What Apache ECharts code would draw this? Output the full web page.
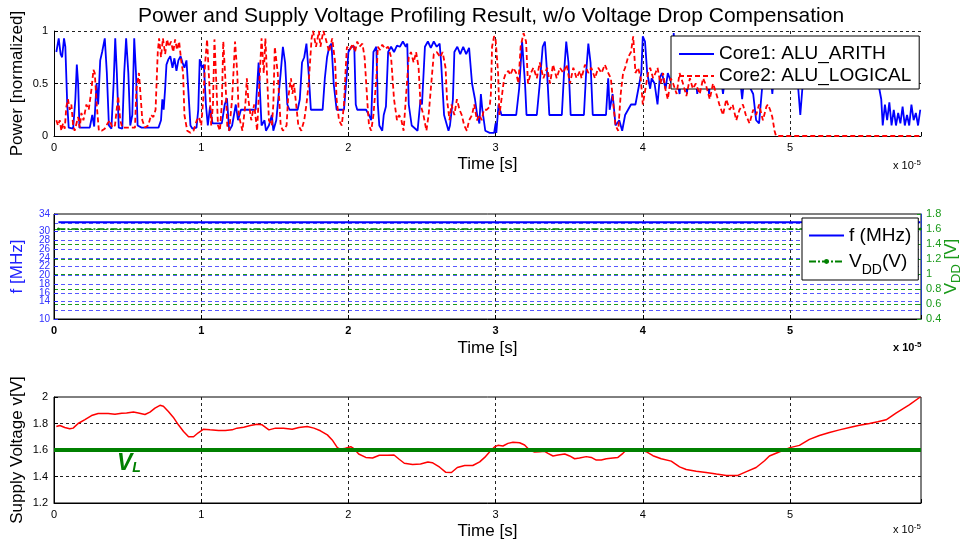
<!DOCTYPE html>
<html>
<head>
<meta charset="utf-8">
<script src="https://cdn.jsdelivr.net/npm/echarts@6/dist/echarts.min.js"></script>
<style>
  html, body { margin: 0; padding: 0; background: #fff; }
  #chart { width: 964px; height: 544px; }
</style>
</head>
<body>
<div id="chart"></div>
<script>
// time axis is in units of 1e-5 s
var tMax = 5.89;

// Core1: ALU_ARITH, [t, power]
var core1 = [
  [0.016,0.8],[0.032,0.93],[0.045,0.78],[0.055,0.75],[0.068,0.93],[0.077,0.85],[0.09,0.3],[0.1,0.08],
  [0.13,0.07],[0.145,0.35],[0.155,0.68],[0.164,0.5],[0.173,0.08],[0.243,0.08],[0.26,0.2],[0.273,0.09],
  [0.289,0.5],[0.3,0.3],[0.314,0.72],[0.327,0.8],[0.345,0.93],[0.359,0.6],[0.373,0.1],[0.39,0.07],
  [0.405,0.5],[0.416,0.93],[0.427,0.6],[0.44,0.08],[0.464,0.07],[0.477,0.6],[0.49,0.93],[0.505,0.6],
  [0.518,0.1],[0.532,0.2],[0.545,0.93],[0.557,0.6],[0.568,0.1],[0.595,0.08],[0.71,0.08],[0.727,0.15],
  [0.736,0.35],[0.745,0.25],[0.755,0.45],[0.764,0.68],[0.777,0.73],[0.79,0.76],[0.805,0.65],[0.818,0.74],
  [0.832,0.62],[0.845,0.72],[0.86,0.76],[0.873,0.7],[0.886,0.65],[0.9,0.72],[0.914,0.4],[0.927,0.1],
  [0.94,0.07],[0.968,0.08],[0.98,0.25],[0.99,0.73],[1.005,0.65],[1.018,0.68],[1.032,0.3],[1.045,0.1],
  [1.06,0.28],[1.077,0.12],[1.14,0.12],[1.16,0.3],[1.175,0.36],[1.19,0.05],[1.21,0.1],[1.235,0.3],
  [1.25,0.15],[1.27,0.25],[1.37,0.25],[1.39,0.7],[1.4,0.4],[1.41,0.1],[1.43,0.15],[1.44,0.05],
  [1.46,0.1],[1.48,0.2],[1.49,0.05],[1.51,0.15],[1.54,0.6],[1.555,0.85],[1.57,0.7],[1.585,0.3],
  [1.6,0.25],[1.655,0.25],[1.67,0.35],[1.685,0.7],[1.7,0.75],[1.715,0.88],[1.73,0.6],[1.745,0.25],
  [1.825,0.25],[1.84,0.55],[1.855,0.75],[1.87,0.85],[1.885,0.88],[1.9,0.5],[1.92,0.25],[1.97,0.25],
  [1.99,0.6],[2.0,0.8],[2.02,0.85],[2.04,0.85],[2.05,0.3],[2.06,0.25],[2.12,0.25],[2.14,0.2],
  [2.155,0.15],[2.17,0.8],[2.19,0.85],[2.2,0.3],[2.21,0.1],[2.23,0.05],[2.24,0.2],[2.255,0.28],
  [2.27,0.8],[2.29,0.85],[2.31,0.8],[2.33,0.86],[2.35,0.85],[2.37,0.9],[2.39,0.85],[2.4,0.88],
  [2.41,0.3],[2.43,0.1],[2.47,0.05],[2.49,0.35],[2.5,0.3],[2.52,0.85],[2.54,0.9],[2.56,0.84],
  [2.58,0.9],[2.6,0.85],[2.62,0.88],[2.63,0.7],[2.65,0.2],[2.66,0.15],[2.68,0.05],[2.69,0.1],
  [2.71,0.35],[2.72,0.8],[2.74,0.85],[2.76,0.78],[2.78,0.85],[2.8,0.78],[2.82,0.84],[2.84,0.5],
  [2.86,0.35],[2.875,0.2],[2.89,0.12],[2.9,0.4],[2.91,0.25],[2.93,0.05],[2.96,0.03],[2.99,0.03],
  [3.0,0.12],[3.005,0.03],[3.02,0.3],[3.04,0.2],[3.14,0.2],[3.16,0.45],[3.18,0.9],[3.2,0.5],
  [3.21,0.2],[3.28,0.2],[3.3,0.5],[3.32,0.85],[3.335,0.9],[3.35,0.6],[3.365,0.2],[3.45,0.2],
  [3.465,0.6],[3.48,0.9],[3.495,0.7],[3.51,0.2],[3.6,0.2],[3.615,0.6],[3.63,0.88],[3.645,0.7],
  [3.66,0.2],[3.75,0.2],[3.765,0.55],[3.775,0.25],[3.795,0.4],[3.815,0.1],[3.84,0.15],[3.86,0.05],
  [3.88,0.2],[3.9,0.25],[3.92,0.3],[3.95,0.3],[3.99,0.6],[4.0,0.95],[4.015,0.9],[4.03,0.6],
  [4.05,0.45],[4.06,0.55],[4.08,0.5],[4.1,0.3],[4.115,0.55],[4.13,0.6],[4.155,0.45],[4.17,0.6],
  [4.195,0.5],[4.21,0.98],[4.225,0.6],[4.25,0.4],[4.26,0.58],[4.29,0.55],[4.3,0.4],[4.31,0.58],
  [4.36,0.55],[4.37,0.4],[4.38,0.57],[4.44,0.56],[4.45,0.4],[4.46,0.56],[4.53,0.56],[4.545,0.4],
  [4.56,0.57],[4.66,0.56],[4.675,0.35],[4.69,0.57],[4.75,0.4],[4.77,0.15],[4.79,0.12],[4.81,0.45],
  [4.83,0.57],[4.87,0.55],[4.88,0.4],[4.89,0.56],[5.05,0.56],[5.07,0.2],[5.09,0.56],[5.16,0.55],
  [5.17,0.45],[5.18,0.56],[5.23,0.55],[5.24,0.45],[5.25,0.56],[5.3,0.55],[5.31,0.45],[5.32,0.56],
  [5.38,0.56],[5.39,0.45],[5.4,0.56],[5.46,0.55],[5.47,0.45],[5.48,0.56],[5.55,0.55],[5.56,0.45],
  [5.57,0.55],[5.6,0.5],[5.62,0.35],[5.63,0.1],[5.645,0.3],[5.66,0.15],[5.675,0.32],[5.69,0.1],
  [5.705,0.25],[5.72,0.1],[5.735,0.22],[5.75,0.12],[5.765,0.28],[5.78,0.1],[5.795,0.2],[5.81,0.1],
  [5.825,0.3],[5.84,0.15],[5.855,0.22],[5.87,0.1],[5.885,0.25]
];

// Core2: ALU_LOGICAL, [t, power]
var core2 = [
  [0.016,0.15],[0.027,0.1],[0.039,0.15],[0.05,0.05],[0.061,0.12],[0.073,0.07],[0.084,0.28],[0.095,0.35],
  [0.107,0.25],[0.118,0.3],[0.13,0.1],[0.14,0.05],[0.164,0.18],[0.175,0.08],[0.186,0.22],[0.2,0.15],
  [0.22,0.3],[0.236,0.25],[0.255,0.45],[0.268,0.63],[0.277,0.6],[0.29,0.3],[0.305,0.05],[0.323,0.05],
  [0.345,0.07],[0.364,0.12],[0.38,0.15],[0.395,0.08],[0.414,0.1],[0.436,0.38],[0.45,0.15],[0.464,0.08],
  [0.55,0.08],[0.56,0.45],[0.577,0.6],[0.59,0.35],[0.6,0.15],[0.618,0.08],[0.64,0.1],[0.66,0.2],
  [0.675,0.18],[0.69,0.25],[0.705,0.8],[0.714,0.93],[0.727,0.75],[0.74,0.93],[0.755,0.78],[0.768,0.92],
  [0.78,0.85],[0.795,0.9],[0.81,0.8],[0.823,0.92],[0.836,0.82],[0.85,0.9],[0.864,0.72],[0.877,0.6],
  [0.886,0.2],[0.905,0.05],[0.927,0.03],[0.948,0.05],[0.97,0.15],[0.986,0.18],[1.0,0.1],[1.014,0.35],
  [1.027,0.7],[1.04,0.92],[1.055,0.5],[1.068,0.1],[1.08,0.3],[1.09,0.92],[1.1,0.6],[1.114,0.1],
  [1.127,0.05],[1.14,0.3],[1.15,0.9],[1.164,0.55],[1.177,0.1],[1.19,0.05],[1.21,0.35],[1.23,0.9],
  [1.245,0.6],[1.255,0.2],[1.28,0.05],[1.3,0.3],[1.31,0.55],[1.32,0.35],[1.34,0.15],[1.36,0.3],
  [1.38,0.05],[1.395,0.5],[1.41,0.93],[1.425,0.6],[1.436,0.93],[1.45,0.5],[1.46,0.15],[1.48,0.1],
  [1.49,0.3],[1.5,0.85],[1.52,0.6],[1.54,0.1],[1.555,0.05],[1.58,0.1],[1.59,0.35],[1.61,0.55],
  [1.62,0.4],[1.63,0.5],[1.645,0.3],[1.66,0.1],[1.68,0.05],[1.7,0.15],[1.715,0.3],[1.73,0.5],
  [1.75,0.93],[1.76,1.0],[1.78,0.85],[1.8,1.0],[1.81,0.85],[1.83,1.0],[1.845,0.93],[1.87,0.8],
  [1.89,0.93],[1.91,0.7],[1.92,0.35],[1.936,0.15],[1.955,0.1],[1.97,0.3],[1.98,0.6],[1.99,0.85],
  [2.01,0.82],[2.03,0.88],[2.045,0.8],[2.06,0.9],[2.075,0.85],[2.095,0.88],[2.11,0.75],[2.13,0.3],
  [2.14,0.1],[2.155,0.05],[2.17,0.2],[2.19,0.55],[2.2,0.85],[2.215,0.82],[2.23,0.87],[2.25,0.83],
  [2.27,0.85],[2.29,0.75],[2.31,0.35],[2.33,0.15],[2.345,0.2],[2.36,0.15],[2.375,0.05],[2.39,0.35],
  [2.41,0.75],[2.425,0.8],[2.443,0.7],[2.46,0.8],[2.477,0.65],[2.49,0.3],[2.51,0.2],[2.53,0.05],
  [2.545,0.2],[2.56,0.45],[2.58,0.78],[2.6,0.8],[2.625,0.75],[2.64,0.8],[2.66,0.65],[2.67,0.35],
  [2.687,0.15],[2.7,0.3],[2.72,0.2],[2.737,0.35],[2.755,0.25],[2.77,0.2],[2.787,0.1],[2.805,0.05],
  [2.82,0.15],[2.84,0.2],[2.855,0.3],[2.873,0.15],[2.89,0.2],[2.906,0.15],[2.92,0.25],[2.94,0.25],
  [2.96,0.28],[2.968,0.4],[2.976,0.85],[2.99,0.95],[3.0,0.92],[3.017,0.6],[3.026,0.2],[3.04,0.35],
  [3.058,0.55],[3.07,0.6],[3.087,0.62],[3.1,0.58],[3.12,0.65],[3.14,0.6],[3.155,0.5],[3.17,0.85],
  [3.19,0.98],[3.207,0.9],[3.22,0.5],[3.24,0.6],[3.257,0.65],[3.28,0.55],[3.3,0.7],[3.325,0.55],
  [3.35,0.65],[3.37,0.5],[3.39,0.68],[3.415,0.55],[3.437,0.65],[3.46,0.6],[3.483,0.68],[3.505,0.5],
  [3.528,0.65],[3.55,0.55],[3.573,0.62],[3.584,0.55],[3.607,0.68],[3.63,0.6],[3.65,0.65],[3.675,0.55],
  [3.697,0.65],[3.72,0.6],[3.742,0.68],[3.765,0.6],[3.783,0.55],[3.8,0.3],[3.815,0.1],[3.833,0.05],
  [3.85,0.4],[3.866,0.6],[3.88,0.65],[3.9,0.75],[3.92,0.8],[3.935,0.95],[3.95,0.6],[3.968,0.65],
  [3.986,0.55],[4.0,0.3],[4.018,0.45],[4.036,0.6],[4.05,0.65],[4.07,0.55],[4.086,0.6],[4.1,0.65],
  [4.12,0.5],[4.138,0.6],[4.153,0.45],[4.17,0.35],[4.19,0.55],[4.206,0.5],[4.23,0.4],[4.25,0.6],
  [4.273,0.5],[4.296,0.38],[4.32,0.55],[4.34,0.45],[4.36,0.5],[4.387,0.4],[4.41,0.55],[4.43,0.48],
  [4.455,0.35],[4.477,0.5],[4.5,0.4],[4.52,0.3],[4.545,0.2],[4.567,0.35],[4.59,0.25],[4.61,0.3],
  [4.635,0.15],[4.657,0.25],[4.68,0.3],[4.7,0.2],[4.725,0.12],[4.75,0.25],[4.77,0.2],[4.79,0.3],
  [4.816,0.15],[4.84,0.28],[4.85,0.3],[4.865,0.25],[4.88,0.18],[4.895,0.05],[4.905,0],[5.885,0]
];

// frequency (MHz) and VDD (V) settings
var freq = [[0.03,32.1],[5.885,32.1]];
var vdd = [[0.03,1.6],[5.885,1.6]];

// supply voltage v (V)
var supply = [
  [0.016,1.777],[0.04,1.785],[0.073,1.77],[0.107,1.76],[0.13,1.765],[0.164,1.8],[0.21,1.83],[0.255,1.86],
  [0.3,1.876],[0.368,1.876],[0.414,1.87],[0.46,1.878],[0.493,1.88],[0.54,1.886],[0.573,1.88],[0.618,1.868],
  [0.652,1.886],[0.686,1.916],[0.72,1.937],[0.743,1.93],[0.777,1.89],[0.81,1.848],[0.845,1.79],[0.88,1.74],
  [0.914,1.7],[0.948,1.7],[0.98,1.73],[1.016,1.757],[1.06,1.752],[1.118,1.747],[1.164,1.747],[1.21,1.752],
  [1.243,1.765],[1.289,1.772],[1.334,1.785],[1.38,1.795],[1.414,1.79],[1.46,1.752],[1.505,1.765],[1.56,1.765],
  [1.618,1.757],[1.664,1.77],[1.72,1.777],[1.766,1.765],[1.81,1.745],[1.857,1.714],[1.89,1.676],[1.925,1.618],
  [1.948,1.605],[1.98,1.613],[2.016,1.625],[2.04,1.608],[2.07,1.57],[2.118,1.544],[2.164,1.54],[2.21,1.56],
  [2.266,1.56],[2.31,1.562],[2.345,1.53],[2.38,1.5],[2.436,1.49],[2.49,1.495],[2.54,1.51],[2.57,1.504],
  [2.62,1.47],[2.66,1.433],[2.7,1.43],[2.74,1.468],[2.79,1.483],[2.845,1.483],[2.892,1.51],[2.926,1.544],
  [2.96,1.587],[2.994,1.625],[3.016,1.635],[3.05,1.63],[3.084,1.65],[3.118,1.658],[3.163,1.655],[3.197,1.638],
  [3.23,1.6],[3.265,1.585],[3.3,1.587],[3.333,1.59],[3.356,1.575],[3.39,1.555],[3.424,1.562],[3.47,1.57],
  [3.503,1.555],[3.537,1.534],[3.57,1.54],[3.616,1.55],[3.65,1.544],[3.684,1.524],[3.718,1.524],[3.752,1.534],
  [3.797,1.54],[3.831,1.544],[3.865,1.575],[3.888,1.6],[3.95,1.6],[4.0,1.6],[4.023,1.587],[4.069,1.557],
  [4.125,1.534],[4.193,1.516],[4.25,1.473],[4.295,1.453],[4.363,1.44],[4.43,1.43],[4.5,1.418],[4.567,1.408],
  [4.646,1.408],[4.7,1.435],[4.77,1.468],[4.827,1.519],[4.86,1.555],[4.93,1.587],[5.0,1.618],[5.064,1.635],
  [5.132,1.68],[5.2,1.709],[5.268,1.732],[5.336,1.752],[5.404,1.77],[5.472,1.787],[5.54,1.8],[5.596,1.813],
  [5.653,1.828],[5.72,1.878],[5.81,1.94],[5.885,2.0]
];

// lower voltage limit V_L
var vLimit = [[0, 1.6], [5.89, 1.6]];

var FONT = 'Liberation Sans, Arial, Helvetica, sans-serif';

function timeAxis(idx, bold, gap) {
  return {
    type: 'value', gridIndex: idx, min: 0, max: tMax, interval: 1,
    name: 'Time [s]', nameLocation: 'middle', nameGap: gap,
    nameTextStyle: { fontSize: 17, color: '#000', fontFamily: FONT },
    axisLine: { show: true, onZero: false, lineStyle: { color: '#000', width: 1 } },
    axisTick: { show: true, inside: true, length: 4, lineStyle: { color: '#000' } },
    axisLabel: {
      color: '#000', fontSize: 11, margin: 6, fontFamily: FONT,
      fontWeight: bold ? 'bold' : 'normal',
      formatter: function (v) { return Math.abs(v - Math.round(v)) < 1e-6 ? String(Math.round(v)) : ''; }
    },
    splitLine: { show: true, showMinLine: false, showMaxLine: false,
      lineStyle: { color: '#222', type: [3, 3], width: 1 } }
  };
}

var myChart = echarts.init(document.getElementById('chart'), null, { renderer: 'canvas' });

var hideDot = { opacity: 0 };

var option = {
  animation: false,
  backgroundColor: '#fff',
  textStyle: { fontFamily: FONT },
  title: {
    text: 'Power and Supply Voltage Profiling Result, w/o Voltage Drop Compensation',
    left: 486, top: 1, textAlign: 'center',
    textStyle: { fontSize: 21, fontWeight: 'normal', color: '#000', fontFamily: FONT }
  },
  grid: [
    { left: 54, top: 31, width: 867, height: 105, containLabel: false, outerBoundsMode: 'none' },
    { left: 54, top: 214, width: 867, height: 105, containLabel: false, outerBoundsMode: 'none',
      show: true, borderColor: '#000', borderWidth: 1 },
    { left: 54, top: 397, width: 867, height: 106, containLabel: false, outerBoundsMode: 'none',
      show: true, borderColor: '#000', borderWidth: 1 }
  ],
  legend: [
    {
      data: [
        { name: 'Core1: ALU_ARITH', itemStyle: hideDot },
        { name: 'Core2: ALU_LOGICAL', itemStyle: hideDot }
      ],
      orient: 'vertical', left: 671, top: 36,
      padding: [8, 8, 3, 7], itemGap: 2, itemWidth: 35, itemHeight: 10,
      backgroundColor: '#fff', borderColor: '#000', borderWidth: 1,
      textStyle: { fontSize: 19, lineHeight: 20, color: '#000', fontFamily: FONT }
    },
    {
      data: [
        { name: 'f (MHz)', itemStyle: hideDot },
        'VDD (V)'
      ],
      orient: 'vertical', left: 802, top: 218,
      padding: [8, 7, 3, 6], itemGap: 1, itemWidth: 35, itemHeight: 6,
      backgroundColor: '#fff', borderColor: '#000', borderWidth: 1,
      formatter: function (name) {
        return name === 'VDD (V)' ? '{n|V}{s|DD}{n|(V)}' : '{n|' + name + '}';
      },
      textStyle: {
        fontSize: 19, color: '#000', fontFamily: FONT,
        rich: {
          n: { fontSize: 19, color: '#000', fontFamily: FONT, lineHeight: 21 },
          s: { fontSize: 14, color: '#000', fontFamily: FONT, lineHeight: 15, padding: [17, 0, 0, 0] }
        }
      }
    }
  ],
  xAxis: [timeAxis(0, false, 20), timeAxis(1, true, 21), timeAxis(2, false, 20)],
  yAxis: [
    {
      type: 'value', gridIndex: 0, min: 0, max: 1, interval: 0.5,
      name: 'Power [normalized]', nameLocation: 'middle', nameGap: 28, nameRotate: 90, nameMoveOverlap: false,
      nameTextStyle: { fontSize: 17, color: '#000', fontFamily: FONT },
      axisLine: { show: true, lineStyle: { color: '#000' } },
      axisTick: { show: true, inside: true, length: 4, lineStyle: { color: '#000' } },
      axisLabel: { color: '#000', fontSize: 11, margin: 6, fontFamily: FONT },
      splitLine: { show: true, showMinLine: false, showMaxLine: true,
        lineStyle: { color: '#222', type: [3, 3] } }
    },
    {
      type: 'value', gridIndex: 1, min: 10, max: 34, interval: 2,
      name: 'f [MHz]', nameLocation: 'middle', nameGap: 28, nameRotate: 90, nameMoveOverlap: false,
      nameTextStyle: { fontSize: 17, color: '#2020ff', fontFamily: FONT },
      axisLine: { show: true, lineStyle: { color: '#000' } },
      axisTick: { show: true, inside: true, length: 4, lineStyle: { color: '#2020ff' } },
      axisLabel: { color: '#3030ff', fontSize: 10, margin: 4, fontFamily: FONT,
        showMinLabel: true, showMaxLabel: true, hideOverlap: false },
      splitLine: { show: true, showMinLine: false, showMaxLine: false,
        lineStyle: { color: '#3a3aff', type: [4, 3], width: 1, opacity: 0.85 } }
    },
    {
      type: 'value', gridIndex: 1, min: 0.4, max: 1.8, interval: 0.2, position: 'right',
      name: '{n|V}{s|DD}{n| [V]}', nameLocation: 'middle', nameGap: 18, nameRotate: 90, nameMoveOverlap: false,
      nameTextStyle: {
        fontSize: 17, color: '#1a9a1a', fontFamily: FONT,
        rich: {
          n: { fontSize: 17, color: '#1a9a1a', fontFamily: FONT },
          s: { fontSize: 13, color: '#1a9a1a', fontFamily: FONT, padding: [11, 0, 0, 0] }
        }
      },
      axisLine: { show: true, lineStyle: { color: '#2040c0' } },
      axisTick: { show: true, inside: true, length: 4, lineStyle: { color: '#1a9a1a' } },
      axisLabel: { color: '#1a9a1a', fontSize: 11, margin: 5, fontFamily: FONT,
        showMinLabel: true, showMaxLabel: true },
      splitLine: { show: true, showMinLine: false, showMaxLine: false,
        lineStyle: { color: '#1a9a1a', type: [4, 3], width: 1 } }
    },
    {
      type: 'value', gridIndex: 2, min: 1.2, max: 2, interval: 0.2,
      name: 'Supply Voltage v[V]', nameLocation: 'middle', nameGap: 28, nameRotate: 90, nameMoveOverlap: false,
      nameTextStyle: { fontSize: 17, color: '#000', fontFamily: FONT },
      axisLine: { show: true, lineStyle: { color: '#000' } },
      axisTick: { show: true, inside: true, length: 4, lineStyle: { color: '#000' } },
      axisLabel: { color: '#000', fontSize: 11, margin: 6, fontFamily: FONT },
      splitLine: { show: true, showMinLine: false, showMaxLine: false,
        lineStyle: { color: '#222', type: [3, 3] } }
    }
  ],
  series: [
    {
      name: 'Core1: ALU_ARITH', type: 'line', xAxisIndex: 0, yAxisIndex: 0,
      data: core1, showSymbol: false, symbol: 'none',
      lineStyle: { color: '#0000ff', width: 1.8 }, itemStyle: { color: '#0000ff' }, z: 3
    },
    {
      name: 'Core2: ALU_LOGICAL', type: 'line', xAxisIndex: 0, yAxisIndex: 0,
      data: core2, showSymbol: false, symbol: 'none',
      lineStyle: { color: '#ff0000', width: 1.8, type: [5, 3] }, itemStyle: { color: '#ff0000' }, z: 4
    },
    {
      name: 'f (MHz)', type: 'line', xAxisIndex: 1, yAxisIndex: 1,
      data: freq, symbol: 'none',
      lineStyle: { color: '#0000ff', width: 2 }, itemStyle: { color: '#0000ff' }
    },
    {
      name: 'VDD (V)', type: 'line', xAxisIndex: 1, yAxisIndex: 2,
      data: vdd, symbol: 'circle', symbolSize: 3, showSymbol: true,
      lineStyle: { color: '#008000', width: 1.5, type: [7, 2, 2, 2] }, itemStyle: { color: '#008000' }
    },
    {
      name: 'Supply voltage', type: 'line', xAxisIndex: 2, yAxisIndex: 3,
      data: supply, symbol: 'none', smooth: false,
      lineStyle: { color: '#ff0000', width: 1.5 }, z: 3
    },
    {
      name: 'V_L', type: 'line', xAxisIndex: 2, yAxisIndex: 3,
      data: vLimit, symbol: 'none',
      lineStyle: { color: '#008000', width: 4 }, z: 4
    }
  ],
  graphic: [
    {
      type: 'text', left: 893, top: 159, z: 10,
      style: {
        text: '{a|x 10}{b|-5}', fill: '#000',
        rich: { a: { fontSize: 11, fontFamily: FONT, padding: [6, 0, 0, 0] }, b: { fontSize: 8, fontFamily: FONT } }
      }
    },
    {
      type: 'text', left: 893, top: 341, z: 10,
      style: {
        text: '{a|x 10}{b|-5}', fill: '#000',
        rich: { a: { fontSize: 11, fontWeight: 'bold', fontFamily: FONT, padding: [6, 0, 0, 0] },
                b: { fontSize: 8, fontWeight: 'bold', fontFamily: FONT } }
      }
    },
    {
      type: 'text', left: 893, top: 523, z: 10,
      style: {
        text: '{a|x 10}{b|-5}', fill: '#000',
        rich: { a: { fontSize: 11, fontFamily: FONT, padding: [6, 0, 0, 0] }, b: { fontSize: 8, fontFamily: FONT } }
      }
    },
    {
      type: 'text', left: 117, top: 452, z: 10,
      style: {
        text: '{v|V}{l|L}', fill: '#008000',
        rich: {
          v: { fontSize: 23, fontWeight: 'bold', fontStyle: 'italic', fontFamily: FONT, fill: '#008000', color: '#008000' },
          l: { fontSize: 14, fontWeight: 'bold', fontStyle: 'italic', fontFamily: FONT, fill: '#008000', color: '#008000', padding: [10, 0, 0, 0] }
        }
      }
    }
  ]
};

myChart.setOption(option);
</script>
</body>
</html>
